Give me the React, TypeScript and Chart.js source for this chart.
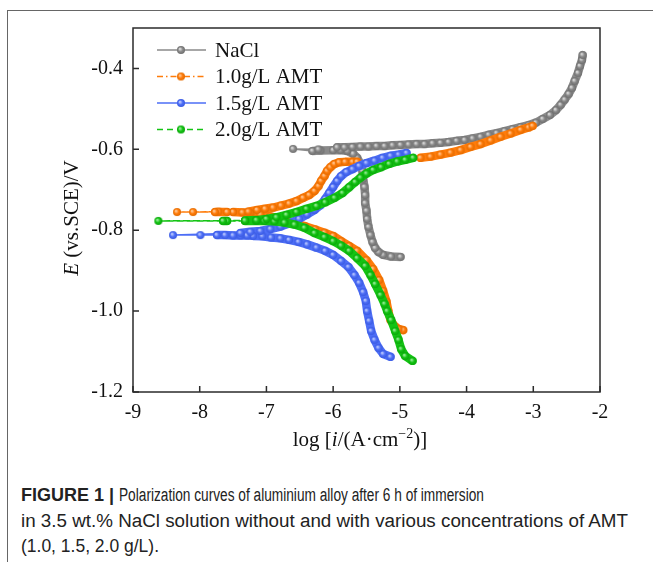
import React, { useEffect, useLayoutEffect, useRef } from "react";
import { Chart, registerables } from "chart.js";

Chart.register(...registerables);

// ---------- data (log i in A/cm2, E in V vs SCE), in scan order ----------
const seriesLabels = ["NaCl", "1.0g/L AMT", "1.5g/L AMT", "2.0g/L AMT"];

const naclLogI = [-4.99, -5.13, -5.25, -5.32, -5.37, -5.41, -5.44, -5.47, -5.49, -5.5, -5.52, -5.52, -5.53, -5.55, -5.56, -5.59, -5.64, -5.7, -5.79, -5.89, -6.0, -6.19, -6.31, -6.6,
  -6.22, -5.94, -5.83, -5.71, -5.59, -5.47, -5.35, -5.23, -5.11, -4.99, -4.87, -4.75, -4.63, -4.51, -4.39, -4.27, -4.15, -4.03, -3.91, -3.79, -3.67, -3.55, -3.43, -3.31, -3.19, -3.07, -2.96, -2.86, -2.75, -2.66, -2.59, -2.53, -2.47, -2.42, -2.38, -2.33, -2.3, -2.27, -2.26];
const naclE = [-0.866, -0.865, -0.861, -0.854, -0.844, -0.829, -0.812, -0.792, -0.772, -0.752, -0.733, -0.713, -0.693, -0.673, -0.653, -0.636, -0.621, -0.611, -0.604, -0.602, -0.602, -0.603, -0.604, -0.599,
  -0.6, -0.595, -0.595, -0.594, -0.593, -0.593, -0.592, -0.592, -0.59, -0.589, -0.588, -0.587, -0.587, -0.585, -0.584, -0.582, -0.579, -0.577, -0.573, -0.569, -0.564, -0.56, -0.555, -0.55, -0.545, -0.54, -0.534, -0.525, -0.515, -0.503, -0.49, -0.477, -0.463, -0.448, -0.431, -0.411, -0.394, -0.379, -0.367];

const amt10LogI = [-4.95, -5.02, -5.08, -5.14, -5.17, -5.2, -5.25, -5.31, -5.4, -5.5, -5.64, -5.76, -5.88, -6.0, -6.13, -6.27, -6.42, -6.54, -6.64, -6.79, -6.94, -7.09, -7.24, -7.36, -7.5, -7.72, -8.1, -8.34,
  -7.77, -7.59, -7.27, -7.14, -7.02, -6.9, -6.78, -6.66, -6.55, -6.45, -6.36, -6.28, -6.22, -6.18, -6.13, -6.09, -6.04, -5.98, -5.91, -5.82, -5.71, -5.64, -5.41, -5.17, -4.93, -4.69, -4.54, -4.39, -4.24, -4.09, -3.94, -3.79, -3.64, -3.49, -3.34, -3.19, -3.07, -3.01];
const amt10E = [-1.047, -1.044, -1.037, -1.022, -1.002, -0.977, -0.95, -0.923, -0.896, -0.874, -0.851, -0.839, -0.827, -0.814, -0.806, -0.798, -0.79, -0.785, -0.78, -0.772, -0.766, -0.761, -0.757, -0.756, -0.755, -0.754, -0.755, -0.755,
  -0.755, -0.755, -0.754, -0.75, -0.747, -0.744, -0.739, -0.734, -0.728, -0.72, -0.713, -0.703, -0.691, -0.678, -0.666, -0.653, -0.644, -0.636, -0.632, -0.631, -0.631, -0.631, -0.63, -0.628, -0.625, -0.621, -0.618, -0.613, -0.608, -0.602, -0.594, -0.587, -0.578, -0.569, -0.561, -0.552, -0.546, -0.542];

const amt15LogI = [-5.14, -5.25, -5.32, -5.38, -5.43, -5.46, -5.49, -5.51, -5.55, -5.61, -5.68, -5.77, -5.88, -6.0, -6.12, -6.25, -6.39, -6.52, -6.66, -6.79, -6.93, -7.06, -7.2, -7.29, -7.39, -7.5, -7.62, -7.74, -7.99, -8.4,
  -7.39, -7.24, -7.09, -6.94, -6.79, -6.64, -6.51, -6.39, -6.28, -6.19, -6.12, -6.06, -6.0, -5.94, -5.88, -5.8, -5.71, -5.61, -5.5, -5.38, -5.26, -5.14, -5.02, -4.9];
const amt15E = [-1.113, -1.106, -1.091, -1.071, -1.049, -1.024, -1.0, -0.975, -0.953, -0.93, -0.911, -0.891, -0.876, -0.861, -0.851, -0.843, -0.835, -0.829, -0.824, -0.82, -0.818, -0.815, -0.814, -0.813, -0.813, -0.813, -0.812, -0.812, -0.812, -0.812,
  -0.807, -0.804, -0.802, -0.797, -0.791, -0.782, -0.772, -0.761, -0.75, -0.738, -0.723, -0.708, -0.693, -0.678, -0.666, -0.656, -0.649, -0.641, -0.634, -0.628, -0.621, -0.616, -0.613, -0.609];

const amt20LogI = [-4.81, -4.92, -4.98, -5.02, -5.07, -5.13, -5.19, -5.23, -5.29, -5.37, -5.44, -5.52, -5.64, -5.76, -5.88, -6.0, -6.13, -6.28, -6.43, -6.58, -6.73, -6.88, -7.03, -7.15, -7.32, -7.59, -7.65, -8.62,
  -7.32, -7.15, -7.0, -6.85, -6.7, -6.55, -6.4, -6.25, -6.12, -5.98, -5.86, -5.76, -5.67, -5.59, -5.5, -5.4, -5.28, -5.16, -5.04, -4.92, -4.8];
const amt20E = [-1.123, -1.111, -1.094, -1.071, -1.049, -1.022, -1.0, -0.982, -0.96, -0.933, -0.911, -0.888, -0.869, -0.851, -0.838, -0.827, -0.817, -0.807, -0.794, -0.786, -0.781, -0.778, -0.777, -0.777, -0.777, -0.777, -0.777, -0.777,
  -0.776, -0.775, -0.772, -0.768, -0.762, -0.755, -0.747, -0.74, -0.731, -0.72, -0.708, -0.694, -0.681, -0.67, -0.66, -0.651, -0.644, -0.636, -0.63, -0.626, -0.621];

const xTicks = [-9, -8, -7, -6, -5, -4, -3, -2];
const yTicks = [-1.2, -1.0, -0.8, -0.6, -0.4];

const captionLines = [
  "Polarization curves of aluminium alloy after 6 h of immersion",
  "in 3.5 wt.% NaCl solution without and with various concentrations of AMT",
  "(1.0, 1.5, 2.0 g/L).",
];

// ---------- styling ----------
const SERIF = "'Liberation Serif', 'Times New Roman', Times, serif";
const SANS = "'Liberation Sans', Arial, Helvetica, sans-serif";
const colors = ["#8a8a8a", "#ff7c0a", "#4d6ef6", "#14c414"];
const lights = ["#e6e6e6", "#ffd2a6", "#c9d4ff", "#aef0ae"];
const darks = ["#6e6e6e", "#e06a00", "#3a5ae0", "#0aa40a"];
const dashes: number[][] = [[], [6, 3, 1.5, 3], [], [6, 4]];
const THIN = 1.5;
const THICK = 8.5;
const DENSE = 14;
const captionRight = [484, 628, 159];

function makeBall(color: string, light: string, dark: string, r: number) {
  const c = document.createElement("canvas");
  const size = Math.ceil(r * 2) + 2;
  c.width = size;
  c.height = size;
  const g = c.getContext("2d")!;
  const cx = size / 2;
  const cy = size / 2;
  const grad = g.createRadialGradient(cx - r * 0.3, cy - r * 0.3, 0.2, cx, cy, r);
  grad.addColorStop(0, light);
  grad.addColorStop(0.55, color);
  grad.addColorStop(1, dark);
  g.fillStyle = grad;
  g.beginPath();
  g.arc(cx, cy, r, 0, Math.PI * 2);
  g.fill();
  return c;
}

function segLen(c: any) {
  return Math.hypot(c.p1.x - c.p0.x, c.p1.y - c.p0.y);
}

export default function App() {
  const ref = useRef<HTMLCanvasElement | null>(null);
  const lineRefs = useRef<(HTMLSpanElement | null)[]>([]);

  useLayoutEffect(() => {
    lineRefs.current.forEach((el, i) => {
      if (!el) return;
      el.style.transform = "none";
      const r = el.getBoundingClientRect();
      if (r.width > 0) el.style.transform = `scaleX(${(captionRight[i] - r.left) / r.width})`;
    });
  }, []);

  useEffect(() => {
    const canvas = ref.current;
    if (!canvas) return;
    const seriesX = [naclLogI, amt10LogI, amt15LogI, amt20LogI];
    const seriesY = [naclE, amt10E, amt15E, amt20E];
    const balls = colors.map((c, i) => makeBall(c, lights[i], darks[i], 4));

    const datasets = seriesX.map((xs, i) => ({
      label: seriesLabels[i],
      data: xs.map((x, k) => ({ x, y: seriesY[i][k] })),
      showLine: true,
      borderColor: colors[i],
      backgroundColor: colors[i],
      borderWidth: THIN,
      borderDash: dashes[i],
      borderCapStyle: "round" as const,
      borderJoinStyle: "round" as const,
      pointStyle: balls[i],
      pointRadius: 4,
      pointHoverRadius: 4,
      order: 4 - i,
      segment: {
        borderWidth: (c: any) => (segLen(c) < DENSE ? THICK : THIN),
        borderDash: (c: any) => (segLen(c) < DENSE ? [] : dashes[i]),
      },
    }));

    const decor = {
      id: "decor",
      afterDatasetsDraw(chart: any) {
        const { ctx, chartArea: a, scales } = chart;
        ctx.save();
        // frame
        ctx.strokeStyle = "#2b2b2b";
        ctx.lineWidth = 1.5;
        ctx.setLineDash([]);
        ctx.strokeRect(a.left, a.top, a.right - a.left, a.bottom - a.top);
        ctx.beginPath();
        xTicks.forEach((v) => {
          const px = scales.x.getPixelForValue(v);
          ctx.moveTo(px, a.bottom);
          ctx.lineTo(px, a.bottom - 6);
        });
        yTicks.forEach((v) => {
          const py = scales.y.getPixelForValue(v);
          ctx.moveTo(a.left, py);
          ctx.lineTo(a.left + 6, py);
        });
        ctx.stroke();

        // legend
        const rowY = [50, 76.5, 103, 129.5];
        seriesLabels.forEach((lab, i) => {
          const y = rowY[i];
          ctx.strokeStyle = colors[i];
          ctx.lineWidth = THIN;
          ctx.setLineDash(dashes[i]);
          ctx.beginPath();
          ctx.moveTo(157, y);
          ctx.lineTo(206, y);
          ctx.stroke();
          ctx.setLineDash([]);
          const b = balls[i];
          ctx.drawImage(b, 181 - b.width / 2, y - b.height / 2);
          ctx.fillStyle = "#111";
          ctx.font = `21px ${SERIF}`;
          ctx.textAlign = "left";
          ctx.textBaseline = "middle";
          ctx.fillText(lab, 215, y + 1);
        });

        // x title
        const f = 21;
        const parts = [
          { t: "log [", font: `${f}px ${SERIF}`, dy: 0 },
          { t: "i", font: `italic ${f}px ${SERIF}`, dy: 0 },
          { t: "/(A\u00b7cm", font: `${f}px ${SERIF}`, dy: 0 },
          { t: "\u22122", font: `${Math.round(f * 0.68)}px ${SERIF}`, dy: -f * 0.4 },
          { t: ")]", font: `${f}px ${SERIF}`, dy: 0 },
        ];
        let total = 0;
        parts.forEach((p) => {
          ctx.font = p.font;
          total += ctx.measureText(p.t).width;
        });
        let xx = 360 - total / 2;
        const base = 446;
        ctx.textAlign = "left";
        ctx.textBaseline = "alphabetic";
        ctx.fillStyle = "#111";
        parts.forEach((p) => {
          ctx.font = p.font;
          ctx.fillText(p.t, xx, base + p.dy);
          xx += ctx.measureText(p.t).width;
        });

        // y title
        ctx.save();
        ctx.translate(78, 218);
        ctx.rotate(-Math.PI / 2);
        const yparts = [
          { t: "E", font: `italic ${f}px ${SERIF}` },
          { t: " (vs.SCE)/V", font: `${f}px ${SERIF}` },
        ];
        let yt = 0;
        yparts.forEach((p) => {
          ctx.font = p.font;
          yt += ctx.measureText(p.t).width;
        });
        let yx = -yt / 2;
        yparts.forEach((p) => {
          ctx.font = p.font;
          ctx.fillText(p.t, yx, 0);
          yx += ctx.measureText(p.t).width;
        });
        ctx.restore();

        ctx.restore();
      },
    };

    const tickFont = { family: SERIF, size: 20 };
    const chart = new Chart(canvas, {
      type: "scatter",
      data: { datasets: datasets as any },
      options: {
        responsive: false,
        animation: false,
        devicePixelRatio: 1,
        events: [],
        layout: { padding: { top: 28, right: 53, left: 0, bottom: 0 } },
        plugins: { legend: { display: false }, tooltip: { enabled: false } },
        scales: {
          x: {
            type: "linear",
            min: -9,
            max: -2,
            grid: { display: false, drawTicks: false },
            border: { display: false },
            afterBuildTicks: (s: any) => {
              s.ticks = xTicks.map((v) => ({ value: v }));
            },
            afterFit: (s: any) => {
              s.height = 470 - 392;
            },
            ticks: {
              autoSkip: false,
              maxRotation: 0,
              padding: 9,
              color: "#111",
              font: tickFont,
              callback: (v: any) => String(v),
            },
          },
          y: {
            type: "linear",
            min: -1.2,
            max: -0.3,
            grid: { display: false, drawTicks: false },
            border: { display: false },
            afterBuildTicks: (s: any) => {
              s.ticks = yTicks.map((v) => ({ value: v }));
            },
            afterFit: (s: any) => {
              s.width = 133;
            },
            ticks: {
              autoSkip: false,
              padding: 10,
              color: "#111",
              font: tickFont,
              callback: (v: any) => Number(v).toFixed(1),
            },
          },
        },
      },
      plugins: [decor],
    });
    return () => chart.destroy();
  }, []);

  const lineStyle: React.CSSProperties = {
    display: "inline-block",
    transformOrigin: "0 50%",
    whiteSpace: "nowrap",
  };

  return (
    <div style={{ position: "fixed", left: 0, top: 0, width: 653, height: 562, background: "#fff", overflow: "hidden" }}>
      <div
        style={{
          position: "absolute",
          left: 7,
          top: 10,
          width: 660,
          height: 560,
          borderTop: "1.5px solid #666",
          borderLeft: "1.5px solid #666",
        }}
      />
      <canvas ref={ref} width={653} height={470} style={{ position: "absolute", left: 0, top: 0, width: 653, height: 470 }} />
      <div
        style={{
          position: "absolute",
          left: 21,
          top: 483,
          whiteSpace: "nowrap",
          font: `18px ${SANS}`,
          lineHeight: "25.5px",
          color: "#222",
        }}
      >
        <div>
          <b>FIGURE 1 |</b>{" "}
          <span ref={(el) => { lineRefs.current[0] = el; }} style={lineStyle}>
            {captionLines[0]}
          </span>
        </div>
        <div>
          <span ref={(el) => { lineRefs.current[1] = el; }} style={lineStyle}>
            {captionLines[1]}
          </span>
        </div>
        <div>
          <span ref={(el) => { lineRefs.current[2] = el; }} style={lineStyle}>
            {captionLines[2]}
          </span>
        </div>
      </div>
    </div>
  );
}
